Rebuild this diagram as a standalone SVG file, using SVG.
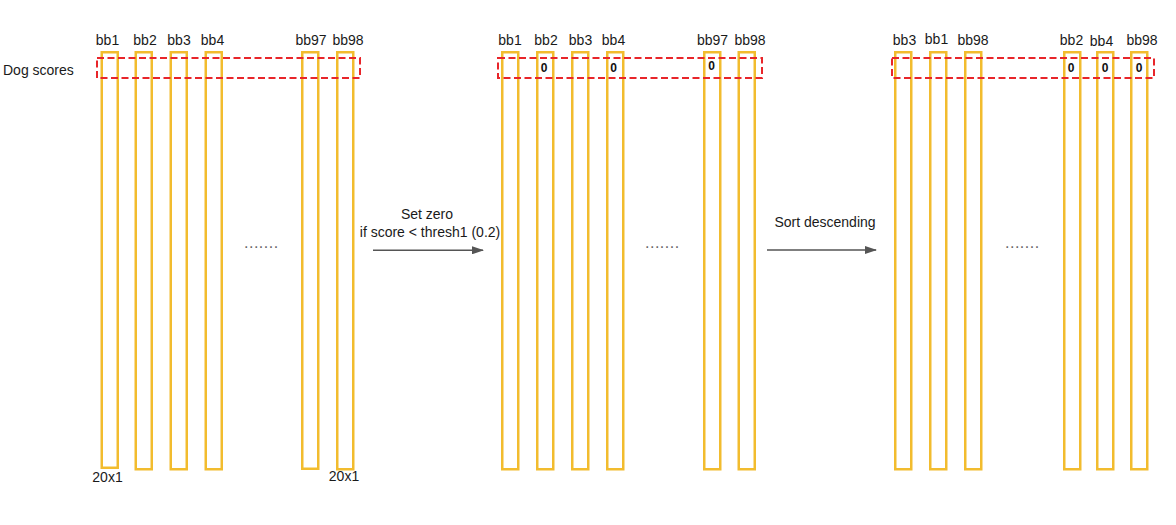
<svg xmlns="http://www.w3.org/2000/svg" width="1176" height="525" viewBox="0 0 1176 525">
<style>
.col{fill:none;stroke:#F2BC2E;stroke-width:2.5}
.sel{fill:none;stroke:#E8252A;stroke-width:2;stroke-dasharray:7,3.5}
.t{font-family:"Liberation Sans",Arial,sans-serif;font-size:14px;fill:#1a1a1a}
.z{font-family:"Liberation Sans",Arial,sans-serif;font-size:12px;font-weight:bold;fill:#111;text-anchor:middle}
.c{text-anchor:middle}
.dots{font-family:"Liberation Sans",Arial,sans-serif;font-size:16px;fill:#666;letter-spacing:0.5px}
.arr{stroke:#555;stroke-width:1.5;fill:none}
</style>
<defs>
<marker id="ah" markerWidth="12" markerHeight="8" refX="11" refY="4" orient="auto" markerUnits="userSpaceOnUse">
<path d="M0,0 L12,4 L0,8 Z" fill="#555"/>
</marker>
</defs>
<rect width="1176" height="525" fill="#fff"/>
<text class="t" x="3" y="75">Dog scores</text>

<!-- Group 1 -->
<g id="g1-bb1"><rect class="col" x="101.75" y="52.25" width="16" height="415.5"/><text class="t c" x="107.5" y="45">bb1</text></g>
<g id="g1-bb2"><rect class="col" x="135.75" y="52.25" width="16" height="417"/><text class="t c" x="145" y="45">bb2</text></g>
<g id="g1-bb3"><rect class="col" x="170.75" y="52.25" width="16" height="417"/><text class="t c" x="179" y="45">bb3</text></g>
<g id="g1-bb4"><rect class="col" x="205.75" y="52.25" width="16" height="417"/><text class="t c" x="212.5" y="45">bb4</text></g>
<g id="g1-bb97"><rect class="col" x="302.25" y="52.25" width="16" height="416.5"/><text class="t c" x="311" y="45">bb97</text></g>
<g id="g1-bb98"><rect class="col" x="337.25" y="52.25" width="16" height="417"/><text class="t c" x="348" y="45">bb98</text></g>
<g id="g1-sel"><rect class="sel" x="97" y="58" width="263" height="20"/></g>
<text class="dots" x="244" y="248">.......</text>
<text class="t c" x="107.5" y="481.5">20x1</text>
<text class="t c" x="344" y="480.5">20x1</text>

<!-- Group 2 -->
<g id="g2-bb1"><rect class="col" x="502.25" y="52.25" width="16" height="417"/><text class="t c" x="510" y="45">bb1</text></g>
<g id="g2-bb2"><rect class="col" x="537.25" y="52.25" width="16" height="417"/><text class="t c" x="546" y="45">bb2</text><text class="z" x="544" y="71.5">0</text></g>
<g id="g2-bb3"><rect class="col" x="572.25" y="52.25" width="16" height="417"/><text class="t c" x="580.5" y="45">bb3</text></g>
<g id="g2-bb4"><rect class="col" x="607.25" y="52.25" width="16" height="417"/><text class="t c" x="613.5" y="45">bb4</text><text class="z" x="613.5" y="71.5">0</text></g>
<g id="g2-bb97"><rect class="col" x="704.25" y="52.25" width="16" height="417"/><text class="t c" x="712.5" y="45">bb97</text><text class="z" x="711.5" y="70">0</text></g>
<g id="g2-bb98"><rect class="col" x="738.75" y="52.25" width="16" height="417"/><text class="t c" x="750" y="45">bb98</text></g>
<g id="g2-sel"><rect class="sel" x="498" y="58" width="264" height="20"/></g>
<text class="dots" x="645" y="248">.......</text>

<!-- Group 3 -->
<g id="g3-bb3"><rect class="col" x="895.25" y="52.25" width="16" height="417"/><text class="t c" x="904.5" y="45">bb3</text></g>
<g id="g3-bb1"><rect class="col" x="930.25" y="52.25" width="16" height="417"/><text class="t c" x="936.5" y="43.5">bb1</text></g>
<g id="g3-bb98"><rect class="col" x="965.25" y="52.25" width="16" height="417"/><text class="t c" x="973" y="45">bb98</text></g>
<g id="g3-bb2"><rect class="col" x="1064.25" y="52.25" width="16" height="417"/><text class="t c" x="1071.5" y="45">bb2</text><text class="z" x="1071" y="71.5">0</text></g>
<g id="g3-bb4"><rect class="col" x="1097.25" y="52.25" width="16" height="417"/><text class="t c" x="1101.5" y="45.5">bb4</text><text class="z" x="1105" y="71.5">0</text></g>
<g id="g3-bb98b"><rect class="col" x="1131.25" y="52.25" width="16" height="417"/><text class="t c" x="1142" y="45">bb98</text><text class="z" x="1139" y="71.5">0</text></g>
<g id="g3-sel"><rect class="sel" x="892" y="58" width="262" height="20"/></g>
<text class="dots" x="1005" y="248">.......</text>

<!-- Connectors -->
<g id="connectors">
<line class="arr" x1="373" y1="250.3" x2="483" y2="250.3" marker-end="url(#ah)"/>
<text class="t c" x="427" y="219.3">Set zero</text>
<text class="t c" x="430" y="236.7">if score &lt; thresh1 (0.2)</text>
<line class="arr" x1="767" y1="250" x2="876" y2="250" marker-end="url(#ah)"/>
<text class="t c" x="825" y="226.7">Sort descending</text>
</g>
</svg>
